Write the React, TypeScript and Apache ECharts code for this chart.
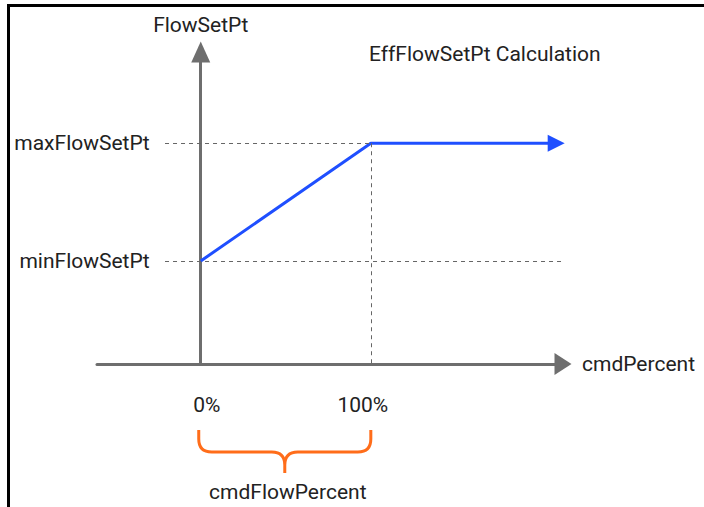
import React, { useEffect, useRef } from 'react';
import * as echarts from 'echarts';

// ---- data (arbitrary units) ----
const xTickValues = [0, 100];
const xTickLabels = ['0%', '100%'];
const yTickValues = [35, 75];
const yTickLabels = ['minFlowSetPt', 'maxFlowSetPt'];
const effX = [0, 100, 205];
const effY = [35, 75, 75];
const arrowEndX = 209;
const guideStartX = -21;
const guideEndX = 213;
const xMin = -61;
const xMax = 213;
const yMin = 0;
const yMax = 106;
const titleText = 'EffFlowSetPt Calculation';
const xName = 'cmdPercent';
const yName = 'FlowSetPt';
const braceLabel = 'cmdFlowPercent';

const FONT = 'Roboto, "Liberation Sans", sans-serif';
const TXT = '#222222';
const AXIS = '#6e6e6e';
const DASH = '#666666';
const BLUE = '#1f4fff';
const ORANGE = '#ff6d1a';

const GRID_LEFT = 97;
const GRID_RIGHT = 141;
const PX_PER_X = (704 - GRID_LEFT - GRID_RIGHT) / (xMax - xMin);

const Brace = echarts.graphic.extendShape({
  type: 'brace',
  shape: { l: 0, r: 0, t: 0, h: 22, rad: 13, stem: 21 },
  buildPath(ctx: any, s: any) {
    const m = (s.l + s.r) / 2;
    const y1 = s.t + s.h;
    ctx.moveTo(s.l, s.t);
    ctx.lineTo(s.l, y1 - s.rad);
    ctx.quadraticCurveTo(s.l, y1, s.l + s.rad, y1);
    ctx.lineTo(m - s.rad, y1);
    ctx.quadraticCurveTo(m, y1, m, y1 + s.rad);
    ctx.lineTo(m, y1 + s.stem);
    ctx.moveTo(m, y1 + s.rad);
    ctx.quadraticCurveTo(m, y1, m + s.rad, y1);
    ctx.lineTo(s.r - s.rad, y1);
    ctx.quadraticCurveTo(s.r, y1, s.r, y1 - s.rad);
    ctx.lineTo(s.r, s.t);
  },
});
echarts.graphic.registerShape('brace', Brace);

export default function App() {
  const ref = useRef<HTMLDivElement>(null);
  useEffect(() => {
    if (!ref.current) return;
    const chart = echarts.init(ref.current, undefined, { renderer: 'svg' });
    const effData = effX.map((x, i) => [x, effY[i]]);
    // y axis sits at x = 0: shift it right from the grid's left edge
    const yAxisShift = (0 - xMin) * PX_PER_X;
    chart.setOption({
      animation: false,
      textStyle: { fontFamily: FONT },
      title: {
        text: titleText,
        left: 369,
        top: 43,
        padding: 0,
        textStyle: { fontSize: 21, fontWeight: 'normal', color: TXT, fontFamily: FONT },
      },
      grid: {
        left: GRID_LEFT,
        right: GRID_RIGHT,
        top: 52,
        bottom: 143,
        containLabel: false,
        outerBoundsMode: 'none',
      },
      xAxis: {
        type: 'value',
        min: xMin,
        max: xMax,
        name: xName,
        nameLocation: 'end',
        nameGap: 19,
        nameTextStyle: { fontSize: 21, color: TXT, fontFamily: FONT, verticalAlign: 'middle' },
        axisLine: {
          show: true,
          onZero: false,
          lineStyle: { color: AXIS, width: 3 },
          symbol: ['none', 'triangle'],
          symbolSize: [22, 17],
        },
        axisTick: { show: false },
        splitLine: { show: false },
        axisLabel: {
          customValues: xTickValues,
          margin: 30,
          fontSize: 21,
          color: TXT,
          fontFamily: FONT,
          formatter: (v: number) => {
            const i = xTickValues.indexOf(v);
            const t = i >= 0 ? xTickLabels[i] : '';
            return i === 0 ? `{l|${t}}` : `{r|${t}}`;
          },
          rich: {
            l: { fontSize: 21, color: TXT, fontFamily: FONT, padding: [0, 0, 0, 12] },
            r: { fontSize: 21, color: TXT, fontFamily: FONT, padding: [0, 16, 0, 0] },
          },
        },
      },
      yAxis: {
        type: 'value',
        min: yMin,
        max: yMax,
        offset: -yAxisShift,
        name: yName,
        nameLocation: 'end',
        nameGap: 17,
        nameTextStyle: { fontSize: 21, color: TXT, fontFamily: FONT, align: 'center' },
        axisLine: {
          show: true,
          onZero: false,
          lineStyle: { color: AXIS, width: 3 },
          symbol: ['none', 'triangle'],
          symbolSize: [19, 21],
        },
        axisTick: { show: false },
        splitLine: { show: false },
        axisLabel: {
          customValues: yTickValues,
          margin: 51,
          fontSize: 21,
          color: TXT,
          fontFamily: FONT,
          formatter: (v: number) => {
            const i = yTickValues.indexOf(v);
            return i >= 0 ? yTickLabels[i] : '';
          },
        },
      },
      series: [
        {
          type: 'line',
          data: [],
          silent: true,
          z: 1,
          markLine: {
            silent: true,
            symbol: 'none',
            label: { show: false },
            lineStyle: { color: DASH, width: 1, type: [4, 4] },
            emphasis: { disabled: true },
            data: [
              [{ coord: [guideStartX, yTickValues[1]] }, { coord: [xTickValues[1], yTickValues[1]] }],
              [{ coord: [guideStartX, yTickValues[0]] }, { coord: [guideEndX, yTickValues[0]] }],
              [{ coord: [xTickValues[1], yTickValues[1]] }, { coord: [xTickValues[1], yMin] }],
            ],
          },
        },
        {
          type: 'line',
          data: effData,
          showSymbol: false,
          silent: true,
          z: 3,
          lineStyle: { color: BLUE, width: 3 },
          itemStyle: { color: BLUE },
          markLine: {
            silent: true,
            symbol: ['none', 'triangle'],
            symbolSize: 17,
            label: { show: false },
            emphasis: { disabled: true },
            lineStyle: { color: BLUE, width: 3, type: 'solid' },
            data: [
              [
                { coord: [effX[effX.length - 1], effY[effY.length - 1]] },
                { coord: [arrowEndX, effY[effY.length - 1]] },
              ],
            ],
          },
        },
      ],
    });

    const p0 = chart.convertToPixel({ gridIndex: 0 }, [xTickValues[0], yMin]) as number[];
    const p1 = chart.convertToPixel({ gridIndex: 0 }, [xTickValues[1], yMin]) as number[];
    const mid = (p0[0] + p1[0]) / 2;
    chart.setOption({
      graphic: [
        {
          type: 'polyline',
          silent: true,
          shape: { points: [[8.5, 507], [8.5, 5.5], [704, 5.5]] },
          style: { stroke: '#000000', lineWidth: 3, fill: 'none' },
        },
        {
          type: 'brace',
          silent: true,
          shape: { l: p0[0] - 2, r: p1[0], t: 430, h: 22, rad: 13, stem: 21 },
          style: { stroke: ORANGE, lineWidth: 3, fill: 'none' },
        },
        {
          type: 'text',
          silent: true,
          x: mid + 2,
          y: 492,
          style: {
            text: braceLabel,
            fontSize: 21,
            fontFamily: FONT,
            fill: TXT,
            align: 'center',
            verticalAlign: 'middle',
          },
        },
      ],
    });

    return () => chart.dispose();
  }, []);
  return (
    <div
      ref={ref}
      style={{ position: 'fixed', left: 0, top: 0, width: 704, height: 507, background: '#ffffff' }}
    />
  );
}
